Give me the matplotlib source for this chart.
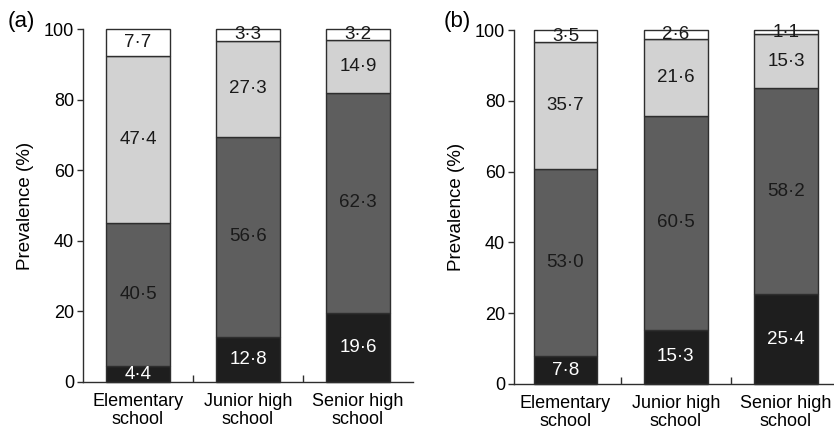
import numpy as np
import matplotlib
matplotlib.use("Agg")
import matplotlib.pyplot as plt

plt.rcParams['font.family'] = ['Liberation Sans', 'DejaVu Sans']

schools = ["Elementary\nschool", "Junior high\nschool", "Senior high\nschool"]

# stacked segments, bottom to top (%)
a_black = [4.4, 12.8, 19.6]
a_dark = [40.5, 56.6, 62.3]
a_light = [47.4, 27.3, 14.9]
a_white = [7.7, 3.3, 3.2]

b_black = [7.8, 15.3, 25.4]
b_dark = [53.0, 60.5, 58.2]
b_light = [35.7, 21.6, 15.3]
b_white = [3.5, 2.6, 1.1]

seg_colors = ["#1e1e1e", "#5e5e5e", "#d2d2d2", "#ffffff"]
txt_colors = ["white", "#1a1a1a", "#1a1a1a", "#1a1a1a"]
edge = "#2e2e2e"


def fmt(v):
    return "{:.1f}".format(v).replace(".", "\u00b7")


def stacked(ax, layers, xlim):
    x = np.arange(len(schools))
    bottom = np.zeros(len(schools))
    for vals, fc, tc in zip(layers, seg_colors, txt_colors):
        vals = np.array(vals)
        ax.bar(x, vals, 0.58, bottom=bottom, color=fc, edgecolor=edge,
               linewidth=1.0, clip_on=False, zorder=2)
        for xi, b, v in zip(x, bottom, vals):
            ax.text(xi, b + v / 2, fmt(v), ha="center", va="center",
                    fontsize=13.5, color=tc, zorder=3)
        bottom = bottom + vals

    ax.set_xlim(*xlim)
    ax.set_ylim(0, 100)
    ax.set_yticks([0, 20, 40, 60, 80, 100])
    ax.tick_params(axis="y", direction="out", length=4.5, width=1,
                   labelsize=13, color=edge, pad=2)
    ax.set_xticks([0.5, 1.5])
    ax.set_xticklabels([])
    ax.tick_params(axis="x", which="major", direction="in", length=5,
                   width=1, color=edge)
    ax.set_xticks(x, minor=True)
    ax.set_xticklabels(schools, minor=True, fontsize=13, linespacing=1.05)
    ax.tick_params(axis="x", which="minor", length=0, pad=8)
    ax.set_ylabel("Prevalence (%)", fontsize=13.5, labelpad=7)
    for s in ["top", "right"]:
        ax.spines[s].set_visible(False)
    for s in ["left", "bottom"]:
        ax.spines[s].set_color(edge)
        ax.spines[s].set_linewidth(1)


fig = plt.figure(figsize=(8.34, 4.29), dpi=100)
ax1 = fig.add_axes([0.0995, 0.1096, 0.3957, 0.8228])
ax2 = fig.add_axes([0.6163, 0.1049, 0.3837, 0.8250])

stacked(ax1, [a_black, a_dark, a_light, a_white], (-0.5, 2.5))
stacked(ax2, [b_black, b_dark, b_light, b_white], (-0.467, 2.435))

fig.text(8 / 834, 1 - 22 / 429, "(a)", fontsize=16, ha="left", va="center")
fig.text(444 / 834, 1 - 22 / 429, "(b)", fontsize=16, ha="left", va="center")

fig.savefig("out.png", dpi=100)
